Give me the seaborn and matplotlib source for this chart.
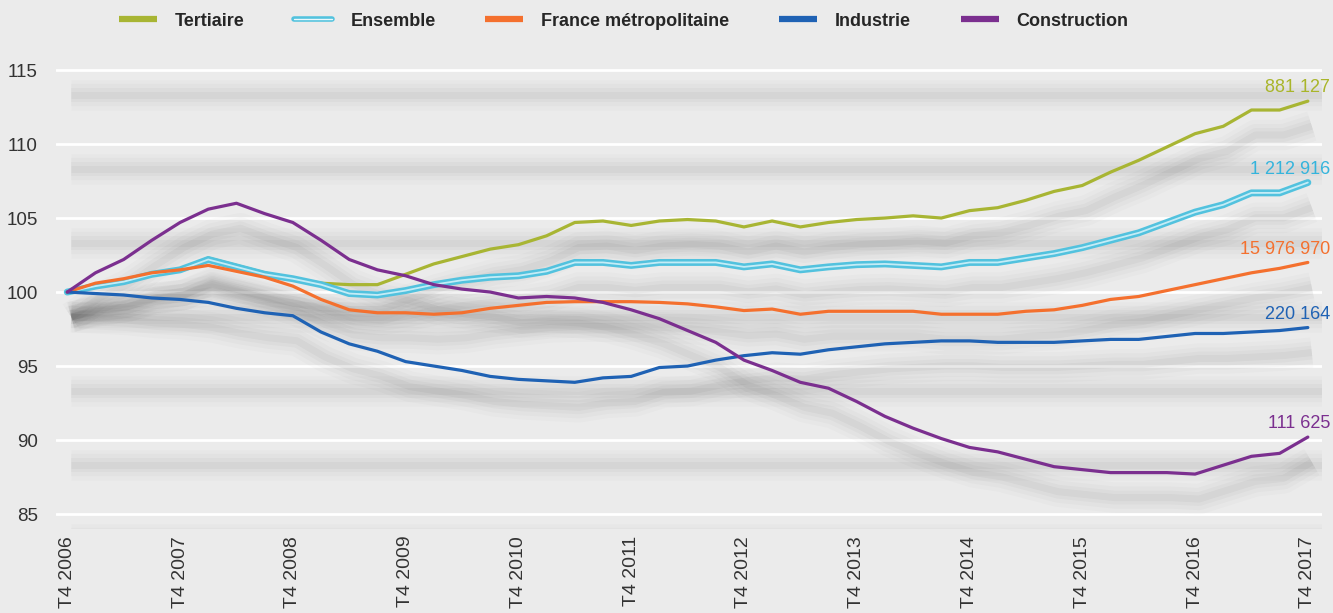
import numpy as np
import pandas as pd
import matplotlib
matplotlib.use("Agg")
import matplotlib.pyplot as plt
import matplotlib.patheffects as pe
import matplotlib.transforms as mtransforms
from matplotlib.lines import Line2D
import seaborn as sns

# quarterly index, base 100 = T4 2006 (45 quarters up to T4 2017)
tick_labels = ["T4 2006", "T4 2007", "T4 2008", "T4 2009", "T4 2010", "T4 2011",
               "T4 2012", "T4 2013", "T4 2014", "T4 2015", "T4 2016", "T4 2017"]

tertiaire = [100.0, 100.5, 100.7, 101.3, 101.5, 102.3, 101.8, 101.3, 100.9, 100.6,
             100.5, 100.5, 101.2, 101.9, 102.4, 102.9, 103.2, 103.8, 104.7, 104.8,
             104.5, 104.8, 104.9, 104.8, 104.4, 104.8, 104.4, 104.7, 104.9, 105.0,
             105.15, 105.0, 105.5, 105.7, 106.2, 106.8, 107.2, 108.1, 108.9, 109.8,
             110.7, 111.2, 112.3, 112.3, 112.9]
ensemble = [100.0, 100.4, 100.7, 101.2, 101.5, 102.2, 101.7, 101.2, 100.9, 100.5,
            99.9, 99.8, 100.1, 100.5, 100.8, 101.0, 101.1, 101.4, 102.0, 102.0,
            101.8, 102.0, 102.0, 102.0, 101.7, 101.9, 101.5, 101.7, 101.85, 101.9,
            101.8, 101.7, 102.0, 102.0, 102.3, 102.6, 103.0, 103.5, 104.0, 104.7,
            105.4, 105.9, 106.7, 106.7, 107.4]
france = [100.0, 100.6, 100.9, 101.3, 101.5, 101.8, 101.4, 101.0, 100.4, 99.5,
          98.8, 98.6, 98.6, 98.5, 98.6, 98.9, 99.1, 99.3, 99.35, 99.35,
          99.35, 99.3, 99.2, 99.0, 98.75, 98.85, 98.5, 98.7, 98.7, 98.7,
          98.7, 98.5, 98.5, 98.5, 98.7, 98.8, 99.1, 99.5, 99.7, 100.1,
          100.5, 100.9, 101.3, 101.6, 102.0]
industrie = [100.0, 99.9, 99.8, 99.6, 99.5, 99.3, 98.9, 98.6, 98.4, 97.3,
             96.5, 96.0, 95.3, 95.0, 94.7, 94.3, 94.1, 94.0, 93.9, 94.2,
             94.3, 94.9, 95.0, 95.4, 95.7, 95.9, 95.8, 96.1, 96.3, 96.5,
             96.6, 96.7, 96.7, 96.6, 96.6, 96.6, 96.7, 96.8, 96.8, 97.0,
             97.2, 97.2, 97.3, 97.4, 97.6]
construction = [100.0, 101.3, 102.2, 103.5, 104.7, 105.6, 106.0, 105.3, 104.7, 103.5,
                102.2, 101.5, 101.1, 100.5, 100.2, 100.0, 99.6, 99.7, 99.6, 99.3,
                98.8, 98.2, 97.4, 96.6, 95.4, 94.7, 93.9, 93.5, 92.6, 91.6,
                90.8, 90.1, 89.5, 89.2, 88.7, 88.2, 88.0, 87.8, 87.8, 87.8,
                87.7, 88.3, 88.9, 89.1, 90.2]

series_names = ["Tertiaire", "Ensemble", "France métropolitaine", "Industrie", "Construction"]
series_values = [tertiaire, ensemble, france, industrie, construction]
end_labels = ["881 127", "1 212 916", "15 976 970", "220 164", "111 625"]
colors = ["#a8b533", "#52c2de", "#f4702e", "#1f62b4", "#7b2f8f"]
label_colors = ["#a9b52a", "#34b4dc", "#f4702e", "#1f62b4", "#7b2f8f"]

BG = "#ebebeb"
quarter = np.arange(len(tertiaire))

sns.set_theme(style="white")
plt.rcParams["font.family"] = ["Liberation Sans", "DejaVu Sans"]

fig = plt.figure(figsize=(13.33, 6.13), dpi=100, facecolor=BG)
ax = fig.add_axes([0.042, 0.1373, 0.9497, 0.7967])
ax.set_facecolor(BG)

# drop shadow: same path shifted 25 px down, several soft strokes
shift = mtransforms.ScaledTranslation(4 / 100, -25 / 100, fig.dpi_scale_trans)
SHADOW = [(22, 0.016), (16, 0.02), (10, 0.025), (5, 0.03)]


def add_shadow(x, y, **kw):
    for w, a in SHADOW:
        ax.plot(x, y, color="black", lw=w, alpha=a, solid_capstyle="butt",
                solid_joinstyle="round", transform=ax.transData + shift, zorder=1.5, **kw)


for i, (name, vals) in enumerate(zip(series_names, series_values)):
    df = pd.DataFrame({"q": quarter, "v": vals})
    add_shadow(df["q"], df["v"])
    if name == "Ensemble":
        sns.lineplot(data=df, x="q", y="v", ax=ax, color="#c4ecf6", lw=1.3, zorder=3,
                     path_effects=[pe.Stroke(linewidth=5, foreground=colors[i]), pe.Normal()])
    else:
        sns.lineplot(data=df, x="q", y="v", ax=ax, color=colors[i], lw=2.3, zorder=3 + i)
    ax.annotate(end_labels[i], xy=(quarter[-1], vals[-1]), xytext=(16, 9.5),
                textcoords="offset points", ha="right", va="center",
                color=label_colors[i], fontsize=13)

yticks = [85, 90, 95, 100, 105, 110, 115]
for yt in yticks:
    add_shadow([0, 44.5], [yt, yt])

ax.set_xlim(-0.4, 44.5)
ax.set_ylim(84, 117)
ax.set_yticks(yticks)
ax.set_xticks(quarter[::4])
ax.set_xticklabels(tick_labels, rotation=90, fontsize=14, color="#333333")
for t in ax.get_yticklabels():
    t.set_family(["Liberation Sans Narrow", "Liberation Sans"])
    t.set_fontsize(13.5)
    t.set_color("#333333")
ax.tick_params(axis="y", length=0, pad=13)
ax.tick_params(axis="x", length=0, pad=5)
ax.set_xlabel("")
ax.set_ylabel("")
for s in ax.spines.values():
    s.set_visible(False)

ax.set_axisbelow(True)
ax.yaxis.grid(True, color="white", lw=2)
ax.xaxis.grid(False)

handles = []
for i, name in enumerate(series_names):
    if name == "Ensemble":
        h = Line2D([], [], color="#eaf8fc", lw=1.0,
                   path_effects=[pe.Stroke(linewidth=4, foreground=colors[i]), pe.Normal()])
    else:
        h = Line2D([], [], color=colors[i], lw=4.5, solid_capstyle="butt")
    handles.append(h)
fig.legend(handles, series_names, loc="upper center", bbox_to_anchor=(0.468, 1.006), ncol=5,
           frameon=False, prop={"weight": "bold", "size": 13}, handlelength=2.1,
           handletextpad=1.0, columnspacing=2.75, labelcolor="#262626")

fig.savefig("out.png", dpi=100, facecolor=BG)
